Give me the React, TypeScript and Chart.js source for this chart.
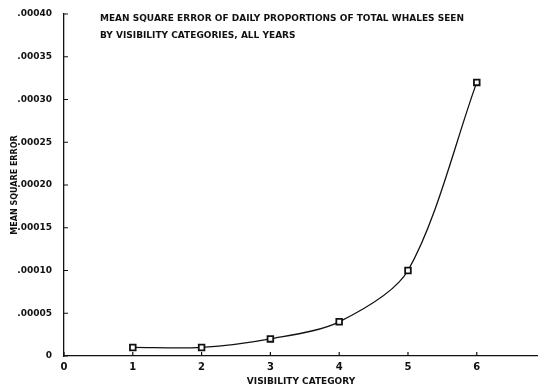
import React, { useEffect, useRef } from "react";
import { Chart, registerables } from "chart.js";

Chart.register(...registerables);

const categories = [1, 2, 3, 4, 5, 6];
const mseValues = [0.00001, 0.00001, 0.00002, 0.00004, 0.0001, 0.00032];
const titleLines = [
  "MEAN SQUARE ERROR OF DAILY PROPORTIONS OF TOTAL WHALES SEEN",
  "BY VISIBILITY CATEGORIES, ALL YEARS",
];
const xAxisTitle = "VISIBILITY CATEGORY";
const yAxisTitle = "MEAN SQUARE ERROR";

const INK = "#111";
const FONT = "'DejaVu Sans', sans-serif";

const titlePlugin = {
  id: "innerTitle",
  afterDraw(chart: any) {
    const { ctx, chartArea, scales } = chart;
    ctx.save();
    // inward ticks
    ctx.strokeStyle = INK;
    ctx.lineWidth = 1.2;
    ctx.beginPath();
    scales.y.ticks.forEach((t: any) => {
      const py = scales.y.getPixelForValue(t.value);
      ctx.moveTo(chartArea.left, py);
      ctx.lineTo(chartArea.left + 4, py);
    });
    scales.x.ticks.forEach((t: any) => {
      const px = scales.x.getPixelForValue(t.value);
      ctx.moveTo(px, chartArea.bottom);
      ctx.lineTo(px, chartArea.bottom - 4);
    });
    ctx.stroke();
    ctx.fillStyle = INK;
    ctx.font = `bold 9px ${FONT}`;
    ctx.textBaseline = "middle";
    ctx.textAlign = "left";
    const x = chartArea.left + 36;
    ctx.fillText(titleLines[0], x, 19, 368);
    ctx.fillText(titleLines[1], x, 36, 218);
    ctx.restore();
  },
};

export default function App() {
  const ref = useRef<HTMLCanvasElement>(null);
  useEffect(() => {
    const chart = new Chart(ref.current!, {
      type: "line",
      data: {
        datasets: [
          {
            data: categories.map((c, i) => ({ x: c, y: mseValues[i] })),
            borderColor: INK,
            borderWidth: 1.3,
            tension: 0.3,
            pointStyle: "rect",
            pointRadius: 4,
            pointBackgroundColor: "#fff",
            pointBorderColor: INK,
            pointBorderWidth: 1.8,
            fill: false,
          },
        ],
      },
      options: {
        animation: false,
        responsive: false,
        maintainAspectRatio: false,
        layout: { autoPadding: false, padding: { top: 14, right: 0, left: 10, bottom: 0 } },
        plugins: { legend: { display: false }, tooltip: { enabled: false } },
        scales: {
          x: {
            type: "linear",
            min: 0,
            max: 6.89,
            afterBuildTicks: (s: any) => {
              s.ticks = s.ticks.filter((t: any) => Number.isInteger(t.value));
            },
            afterFit: (s: any) => {
              s.height = 31;
            },
            ticks: {
              stepSize: 1,
              color: INK,
              font: { family: FONT, size: 10, weight: "bold" },
              padding: -3,
              maxRotation: 0,
            },
            grid: { display: false },
            border: { display: true, color: INK, width: 1.3 },
            title: {
              display: true,
              text: xAxisTitle,
              color: INK,
              font: { family: FONT, size: 9, weight: "bold" },
              padding: { top: 0, bottom: 0 },
            },
          },
          y: {
            type: "linear",
            min: 0,
            max: 0.0004,
            afterFit: (s: any) => {
              s.width = 54;
            },
            ticks: {
              stepSize: 0.00005,
              color: INK,
              font: { family: FONT, size: 9, weight: "bold" },
              padding: 4,
              callback: (v: any) =>
                v === 0 ? "0" : Number(v).toFixed(5).replace(/^0/, ""),
            },
            grid: { display: false },
            border: { display: true, color: INK, width: 1.3 },
            title: {
              display: true,
              text: yAxisTitle,
              color: INK,
              font: { family: FONT, size: 8, weight: "bold" },
              padding: { top: 0, bottom: 0 },
            },
          },
        },
      },
      plugins: [titlePlugin],
    } as any);
    return () => chart.destroy();
  }, []);
  return (
    <div style={{ position: "fixed", left: 0, top: 0, width: 538, height: 387, background: "#fff" }}>
      <canvas ref={ref} width={538} height={387} style={{ display: "block" }} />
    </div>
  );
}
